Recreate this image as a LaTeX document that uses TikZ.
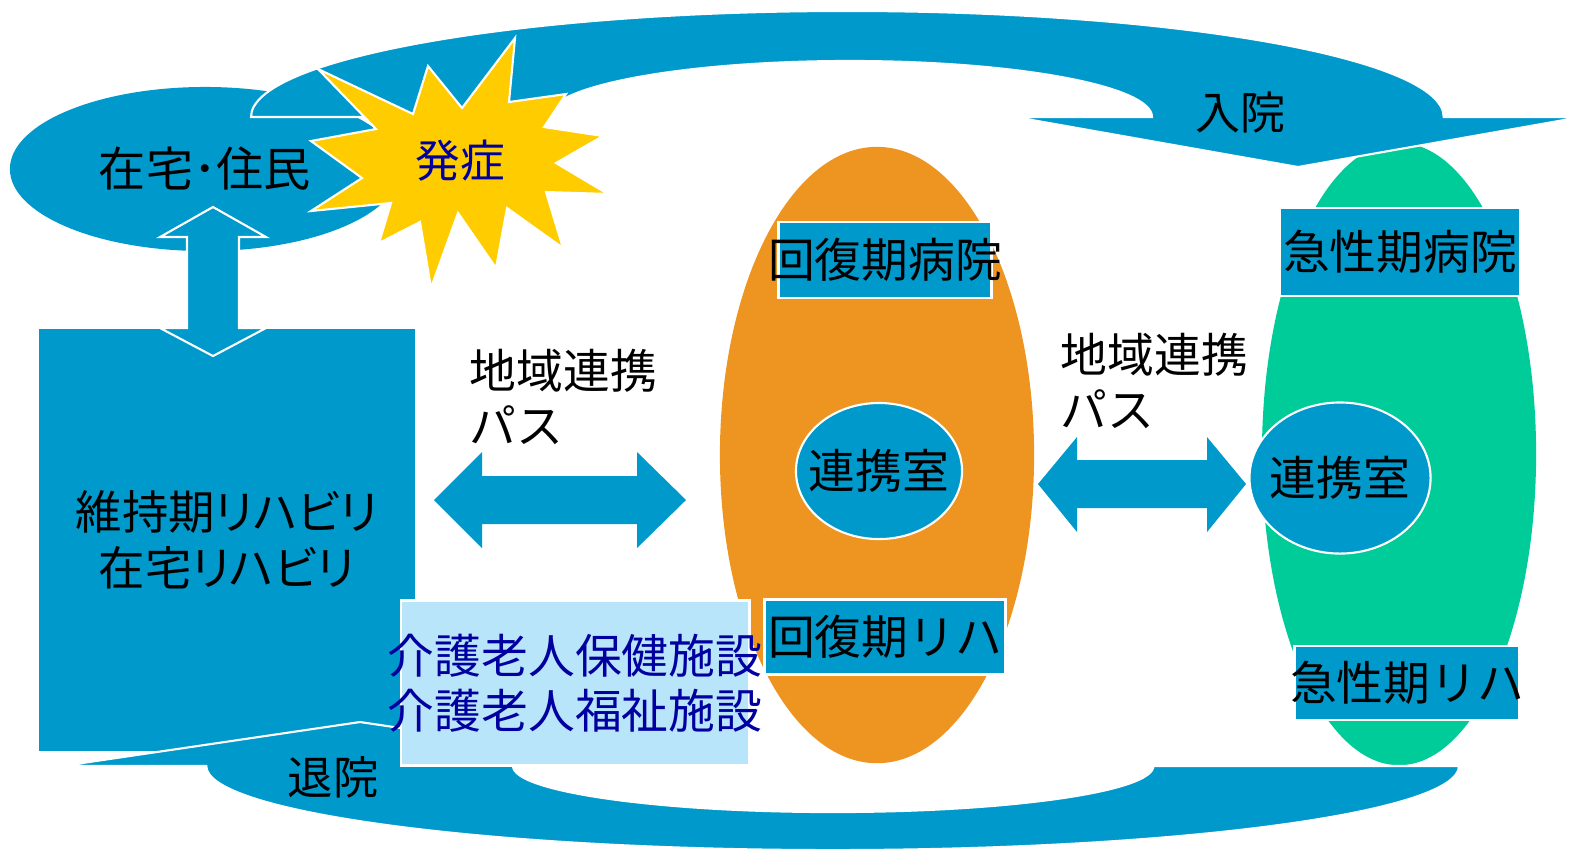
\documentclass[tikz,border=0pt]{standalone}
\usepackage{fontspec}
\setmainfont{Noto Sans CJK JP}
\newfontfamily\propfont{Noto Sans CJK JP}[RawFeature=+palt]
\usetikzlibrary{shapes.geometric}
\definecolor{pptblue}{RGB}{0,153,204}
\definecolor{pptorange}{RGB}{238,149,33}
\definecolor{pptgreen}{RGB}{0,204,153}
\definecolor{pptyellow}{RGB}{255,204,0}
\definecolor{paleblue}{RGB}{185,229,250}
\definecolor{navytext}{RGB}{0,0,160}
\begin{document}
\begin{tikzpicture}[x=0.01cm, y=-0.01cm,
  txt/.style={font=\fontsize{13.3}{15.6}\selectfont, inner sep=0},
  blueband/.style={fill=pptblue, draw=white, line width=0.6pt},
  tagbox/.style={rectangle, fill=pptblue, draw=white, line width=0.8pt, inner sep=0},
  roomoval/.style={ellipse, fill=pptblue, draw=white, line width=0.6pt, inner sep=0},
  bigoval/.style={ellipse, inner sep=0}]
\useasboundingbox (0,0) rectangle (1571,853);
\clip (0,0) rectangle (1571,853);
\node[ellipse, fill=pptblue, minimum width=3.9cm, minimum height=1.64cm, font=\fontsize{13.4}{15}\selectfont] (home) at (205,169) {在宅･住民};
\node[bigoval, fill=pptorange, minimum width=3.14cm, minimum height=6.16cm] (recov) at (877,455) {};
\node[bigoval, fill=pptgreen, minimum width=2.74cm, minimum height=6.22cm] (acute) at (1399,454) {};
% admission
\draw[blueband] (251,117) arc[start angle=180, end angle=0, x radius=5.96cm, y radius=1.06cm] -- (1581,117) -- (1298,167) -- (1015,117) -- (1152,117) arc[start angle=0, end angle=180, x radius=3.02cm, y radius=0.56cm] -- cycle;
\node[txt, font=\fontsize{12.8}{14}\selectfont] (admit) at (1240,112) {入院};
\draw[fill=pptyellow, draw=white, line width=0.6pt] (318,69) -- (413,114) -- (428,66) -- (462,108) -- (515,38) -- (509,102) -- (566,94) -- (544,127) -- (603,136) -- (556,163) -- (608,194) -- (546,192) -- (563,248) -- (507,208) -- (496,268) -- (458,213) -- (431,288) -- (420,222) -- (379,243) -- (391,203) -- (311,211) -- (362,178) -- (311,141) -- (376,129) -- cycle;
\node[txt, text=navytext, font=\fontsize{12.7}{14}\selectfont] (onset) at (460,161) {発症};
\node[rectangle, fill=pptblue, minimum width=3.76cm, minimum height=4.21cm, align=center, font=\propfont\fontsize{13.2}{15.9}\selectfont] (maint) at (227,540) {維持期リハビリ\\在宅リハビリ};
\draw[blueband] (213,207) -- (266,237) -- (239,237) -- (239,328) -- (266,328) -- (213,356) -- (160,328) -- (187,328) -- (187,237) -- (160,237) -- cycle;
% discharge
\draw[blueband] (62,766) -- (360,722) -- (658,766) -- (513,766) arc[start angle=180, end angle=360, x radius=3.2cm, y radius=0.46cm] -- (1459,766) arc[start angle=0, end angle=-180, x radius=6.26cm, y radius=0.84cm] -- cycle;
\node[txt, font=\fontsize{12.9}{14}\selectfont] (disch) at (333,777) {退院};
\node[rectangle, fill=paleblue, draw=white, line width=0.8pt, minimum width=3.48cm, minimum height=1.65cm, label={[txt, text=navytext, align=center]center:{介護老人保健施設\\介護老人福祉施設}}] (care) at (575,683) {};
\node[tagbox, minimum width=2.13cm, minimum height=0.76cm, label={[txt]center:回復期病院}] (recHosp) at (885,260) {};
\node[tagbox, minimum width=2.41cm, minimum height=0.75cm, label={[txt]center:回復期リハ}] (recRehab) at (885,637) {};
\node[tagbox, minimum width=2.40cm, minimum height=0.88cm, label={[txt]center:急性期病院}] (acuHosp) at (1400,252) {};
\node[tagbox, minimum width=2.25cm, minimum height=0.74cm, label={[txt]center:急性期リハ}] (acuRehab) at (1407,683) {};
\node[roomoval, minimum width=1.66cm, minimum height=1.36cm, label={[txt]center:連携室}] (recRoom) at (879,471) {};
\node[roomoval, minimum width=1.81cm, minimum height=1.51cm, label={[txt]center:連携室}] (acuRoom) at (1340,478) {};
\fill[pptblue] (434,500) -- (482,452) -- (482,476) -- (637,476) -- (637,452) -- (686,500) -- (637,548) -- (637,524) -- (482,524) -- (482,548) -- cycle;
\fill[pptblue] (1038,484) -- (1077,437) -- (1077,460) -- (1207,460) -- (1207,437) -- (1246,484) -- (1207,532) -- (1207,508) -- (1077,508) -- (1077,532) -- cycle;
\node[txt, anchor=west, align=left] (pathL) at (469,397) {地域連携\\パス};
\node[txt, anchor=west, align=left] (pathR) at (1060,381) {地域連携\\パス};
\end{tikzpicture}
\end{document}
